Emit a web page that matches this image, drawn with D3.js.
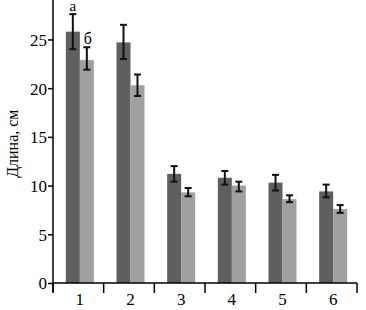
<!DOCTYPE html>
<html>
<head>
<meta charset="utf-8">
<script src="https://cdn.jsdelivr.net/npm/d3@7"></script>
<style>
  body { margin: 0; background: #fff; }
  text { font-family: "Liberation Serif", "DejaVu Serif", serif; }
</style>
</head>
<body>
<div id="chart"></div>
<script>
// data
const categories = ["1", "2", "3", "4", "5", "6"];
const darkValues = [25.8, 24.7, 11.2, 10.8, 10.3, 9.4];
const darkLow    = [24.0, 23.0, 10.4, 10.1, 9.5, 8.8];
const darkHigh   = [27.6, 26.5, 12.0, 11.5, 11.1, 10.1];
const lightValues = [22.9, 20.3, 9.3, 10.0, 8.6, 7.6];
const lightLow    = [21.9, 19.2, 8.9, 9.4, 8.3, 7.2];
const lightHigh   = [24.2, 21.4, 9.75, 10.4, 9.0, 8.0];
const yTicks = [0, 5, 10, 15, 20, 25];
const letters = ["а", "б"];

const width = 366, height = 310;
const margin = {top: 0, right: 9, bottom: 27, left: 53};
const innerW = width - margin.left - margin.right;
const innerH = height - margin.top - margin.bottom;

const svg = d3.select("#chart").append("svg")
    .attr("width", width)
    .attr("height", height);

const g = svg.append("g")
    .attr("transform", `translate(${margin.left},${margin.top})`);

const x = d3.scaleBand()
    .domain(categories)
    .range([0, innerW]);

const y = d3.scaleLinear()
    .domain([0, 29.05])
    .range([innerH, 0]);

const barW = 14;
const shift = 1.5;
const series = [
    {values: darkValues, low: darkLow, high: darkHigh, color: "#5f5f5f", off: -barW},
    {values: lightValues, low: lightLow, high: lightHigh, color: "#a0a0a0", off: 0}
];

series.forEach(s => {
    let cx = (d, i) => x(categories[i]) + x.bandwidth() / 2 + s.off + shift;

    g.selectAll(null)
        .data(s.values)
        .enter()
        .append("rect")
        .attr("x", (d, i) => cx(d, i))
        .attr("y", d => y(d))
        .attr("width", barW)
        .attr("height", d => innerH - y(d))
        .attr("fill", s.color);

    // error bars
    let eb = g.selectAll(null)
        .data(s.values)
        .enter()
        .append("g")
        .attr("stroke", "#111")
        .attr("stroke-width", 2);

    eb.append("line")
        .attr("x1", (d, i) => cx(d, i) + barW / 2)
        .attr("x2", (d, i) => cx(d, i) + barW / 2)
        .attr("y1", (d, i) => y(s.low[i]))
        .attr("y2", (d, i) => y(s.high[i]));

    [s.low, s.high].forEach(arr => {
        eb.append("line")
            .attr("x1", (d, i) => cx(d, i) + barW / 2 - 3.5)
            .attr("x2", (d, i) => cx(d, i) + barW / 2 + 3.5)
            .attr("y1", (d, i) => y(arr[i]))
            .attr("y2", (d, i) => y(arr[i]));
    });
});

// letters over first group
g.append("text")
    .attr("x", x(categories[0]) + x.bandwidth() / 2 - barW / 2 + shift)
    .attr("y", y(darkHigh[0]) - 3)
    .attr("text-anchor", "middle")
    .style("font-size", "15px")
    .text(letters[0]);

g.append("text")
    .attr("x", x(categories[0]) + x.bandwidth() / 2 + barW / 2 + shift + 1)
    .attr("y", y(lightHigh[0]) - 3)
    .attr("text-anchor", "middle")
    .style("font-size", "16px")
    .text(letters[1]);

// y axis
const yAxis = g.append("g")
    .call(d3.axisLeft(y).tickValues(yTicks).tickSize(5).tickSizeOuter(0));
yAxis.select(".domain").attr("stroke", "#000").attr("stroke-width", 1.5)
    .attr("d", `M0,${innerH + 9}V0`);
yAxis.selectAll(".tick line").attr("stroke", "#000").attr("stroke-width", 1.5);
yAxis.selectAll(".tick text")
    .attr("x", -6)
    .attr("dy", "0.35em")
    .style("font-size", "17px")
    .style("font-family", "Liberation Serif")
    .attr("fill", "#000");

// x axis
const xAxis = g.append("g")
    .attr("transform", `translate(0,${innerH})`)
    .call(d3.axisBottom(x).tickSize(0));
xAxis.select(".domain").attr("stroke", "#000").attr("stroke-width", 1.5)
    .attr("d", `M0,0H${innerW}`);
xAxis.selectAll(".tick text")
    .attr("y", 10)
    .attr("dy", "0.71em")
    .attr("dx", shift)
    .style("font-size", "17px")
    .style("font-family", "Liberation Serif")
    .attr("fill", "#000");

// x separators between bands
g.selectAll(null)
    .data(categories.concat(["end"]))
    .enter()
    .append("line")
    .attr("x1", (d, i) => i * x.step())
    .attr("x2", (d, i) => i * x.step())
    .attr("y1", innerH)
    .attr("y2", innerH + 10)
    .attr("stroke", "#000")
    .attr("stroke-width", 1.5);

// y label
svg.append("text")
    .attr("transform", `translate(18,${y(14.3)}) rotate(-90)`)
    .attr("text-anchor", "middle")
    .style("font-size", "16px")
    .text("Длина, см");
</script>
</body>
</html>
